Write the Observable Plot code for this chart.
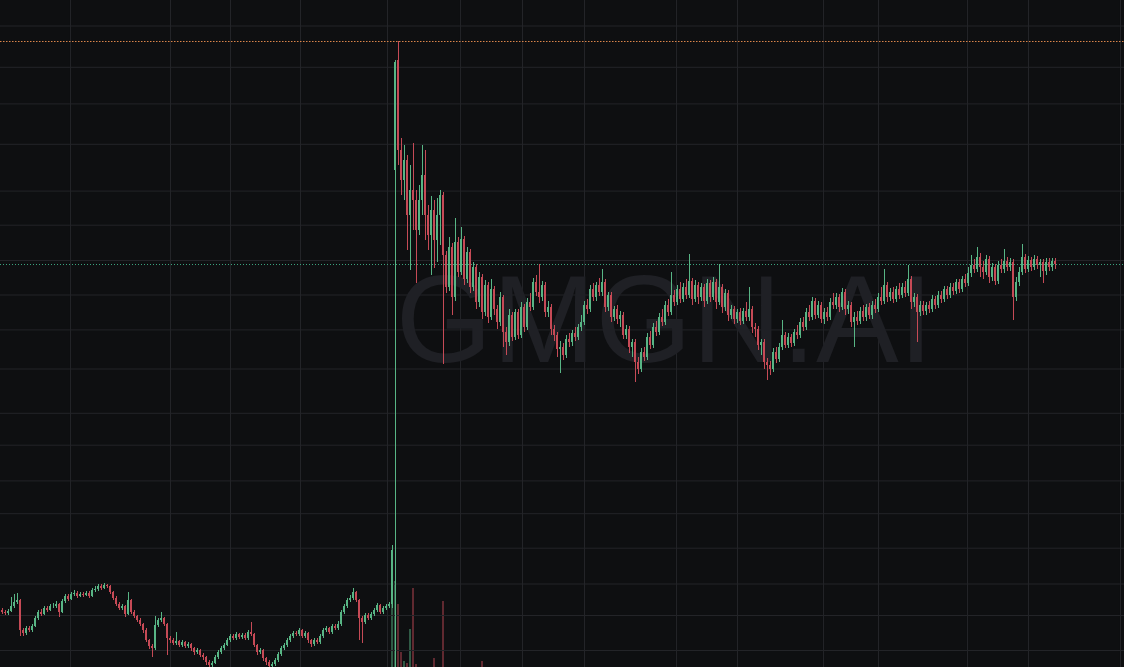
<!DOCTYPE html>
<html><head><meta charset="utf-8">
<script src="https://cdn.jsdelivr.net/npm/d3@7"></script>
<script src="https://cdn.jsdelivr.net/npm/@observablehq/plot@0.6"></script>
<style>
html,body{margin:0;padding:0;background:#0e0f11;overflow:hidden}
#chart{position:relative;width:1124px;height:667px;background:#0e0f11}
#chart svg{position:absolute;left:0;top:0}
</style></head><body><div id="chart"></div>
<script>
// Candle data (price in arbitrary units), one entry per candle, left to right
const open=[
157,155,154,156,161,165,167,137,134,139,
137,141,149,155,153,159,157,161,161,163,
155,166,171,168,173,174,171,173,172,174,
171,177,178,181,179,182,181,175,169,163,
159,161,153,167,155,151,147,143,137,127,
121,119,142,147,149,143,129,127,124,126,
122,125,121,123,119,115,117,112,110,105,
102,104,110,115,119,122,127,131,129,133,
130,132,129,135,133,122,115,117,109,105,
101,103,107,113,119,122,127,131,134,133,
137,131,134,127,123,127,125,131,137,139,
135,141,139,143,155,161,167,169,175,167,
149,145,152,149,153,157,162,155,159,161,
163,597,707,617,587,607,552,577,567,537,
567,592,552,532,557,527,552,572,512,480,
520,470,525,495,528,488,515,480,500,465,
490,455,482,450,478,458,445,470,435,425,
452,430,455,432,460,440,465,460,485,475,
470,482,455,460,438,432,418,420,412,428,
425,434,430,440,445,462,458,478,470,482,
475,485,460,472,450,458,448,452,432,438,
420,425,405,398,415,410,430,422,440,435,
450,445,462,455,472,465,478,468,480,472,
486,468,482,470,480,466,484,470,485,465,
480,460,474,452,458,448,455,446,456,450,
458,440,438,422,425,405,402,398,415,408,
420,432,422,430,424,435,432,445,440,455,
450,466,452,462,448,455,450,465,462,470,
460,475,458,462,445,450,446,456,450,460,
452,462,458,470,466,482,470,475,468,478,
472,480,474,488,465,470,455,462,456,462,
458,468,462,472,468,478,472,480,476,485,
478,488,484,494,502,498,510,500,495,508,
490,500,486,502,498,506,500,505,470,485,
495,510,498,507,500,508,502,505,496,505,
500,506];
const high=[
159,157,158,170,173,174,168,139,141,141,
143,151,157,158,161,161,163,164,166,164,
168,173,173,175,177,176,175,175,176,176,
179,181,183,183,184,183,182,176,171,165,
163,162,175,168,157,152,149,144,139,128,
123,151,149,155,150,144,131,129,135,127,
127,126,125,124,120,119,118,114,111,107,
106,112,117,121,124,129,133,133,135,134,
134,134,137,145,134,123,119,118,110,107,
105,109,115,121,124,129,133,136,136,139,
138,136,135,128,129,129,133,139,141,140,
143,143,146,157,163,169,172,179,176,168,
151,154,154,155,159,164,163,161,163,165,
222,707,726,629,622,612,602,624,577,582,
622,617,562,571,567,569,577,575,516,530,
524,549,530,540,531,520,518,505,503,495,
493,487,485,488,481,462,475,472,440,458,
455,458,458,465,463,469,474,489,492,503,
486,485,466,463,442,435,426,424,432,434,
437,440,443,452,466,468,482,484,485,489,
498,488,475,475,461,462,456,455,442,441,
428,428,410,419,420,434,436,444,446,454,
458,466,468,495,477,482,485,484,488,513,
489,487,485,484,483,488,487,490,488,503,
483,478,477,462,461,458,459,459,465,480,
461,444,441,428,428,409,406,419,420,424,
447,435,434,433,438,442,449,450,459,462,
470,469,466,465,459,460,469,474,474,473,
479,478,466,465,455,456,460,462,463,464,
466,468,474,480,498,485,479,480,481,484,
484,486,502,491,474,473,466,466,465,466,
472,471,476,476,481,481,484,484,488,488,
491,493,500,512,508,520,514,506,512,511,
504,503,506,508,518,510,509,508,490,500,
523,513,511,510,512,511,508,508,509,509,
509,509];
const low=[
153,152,152,155,159,163,131,131,132,135,
135,140,147,151,152,155,156,159,159,150,
154,164,166,167,171,169,170,170,171,169,
170,175,176,177,178,179,173,167,161,157,
157,150,152,153,149,145,141,134,125,118,
110,117,140,145,141,112,124,122,122,120,
120,119,119,116,112,113,110,107,102,98,
99,103,108,113,117,121,125,127,127,128,
128,127,127,131,120,112,113,106,102,97,
98,101,105,111,117,120,125,129,131,131,
129,129,124,120,121,123,123,129,135,133,
133,137,137,141,153,159,165,167,165,127,
124,143,147,147,151,155,153,153,157,159,
159,100,602,572,567,517,497,537,484,532,
552,527,517,492,499,505,522,403,474,476,
452,466,490,492,482,484,474,476,458,460,
448,451,444,447,452,438,441,420,412,421,
426,427,428,429,435,437,456,457,471,464,
466,450,450,432,426,410,394,407,409,420,
421,426,427,436,442,453,455,466,466,471,
471,455,456,445,446,443,440,428,428,414,
410,385,393,395,406,407,418,419,431,432,
441,442,451,452,461,462,464,465,468,469,
462,465,463,466,460,463,465,467,458,462,
454,456,446,448,443,444,442,443,446,446,
434,430,417,412,398,387,392,395,404,405,
417,419,419,420,421,428,429,436,437,446,
447,448,449,444,443,446,447,458,458,455,
457,452,453,440,420,442,443,446,446,448,
448,454,455,462,463,465,466,464,465,468,
469,470,471,458,460,425,451,452,452,454,
455,458,459,464,465,468,469,472,473,474,
475,480,481,490,494,495,490,488,492,484,
486,482,483,494,494,496,496,447,466,481,
492,494,495,496,497,498,490,484,492,496,
496,498];
const close=[
155,154,156,161,165,167,137,134,139,137,
141,149,155,153,159,157,161,161,163,155,
166,171,168,173,174,171,173,172,174,171,
177,178,181,179,182,181,175,169,163,159,
161,153,167,155,151,147,143,137,127,121,
119,142,147,149,143,129,127,124,126,122,
125,121,123,119,115,117,112,110,105,102,
104,110,115,119,122,127,131,129,133,130,
132,129,135,133,122,115,117,109,105,101,
103,107,113,119,122,127,131,134,133,137,
131,134,127,123,127,125,131,137,139,135,
141,139,143,155,161,167,169,175,167,149,
145,152,149,153,157,162,155,159,161,163,
217,705,617,587,607,552,577,567,537,567,
592,552,532,557,527,552,572,512,480,520,
470,525,495,528,488,515,480,500,465,490,
455,482,450,478,458,445,470,435,425,452,
430,455,432,460,440,465,460,485,475,470,
482,455,460,438,432,418,420,412,428,425,
434,430,440,445,462,458,478,470,482,475,
485,460,472,450,458,448,452,432,438,420,
425,405,398,415,410,430,422,440,435,450,
445,462,455,472,465,478,468,480,472,486,
468,482,470,480,466,484,470,485,465,480,
460,474,452,458,448,455,446,456,450,458,
440,438,422,425,405,402,398,415,408,420,
432,422,430,424,435,432,445,440,455,450,
466,452,462,448,455,450,465,462,470,460,
475,458,462,445,450,446,456,450,460,452,
462,458,470,466,482,470,475,468,478,472,
480,474,488,465,470,455,462,456,462,458,
468,462,472,468,478,472,480,476,485,478,
488,484,494,502,498,510,500,495,508,490,
500,486,502,498,506,500,505,470,485,495,
510,498,507,500,508,502,505,496,505,500,
506,503];
const volume=[
0,0,0,0,0,0,0,0,0,0,0,0,0,0,0,0,0,0,0,0,
0,0,0,0,0,0,0,0,0,0,0,0,0,0,0,0,0,0,0,0,
0,0,0,0,0,0,0,0,0,0,0,0,0,0,0,0,0,0,0,0,
0,0,0,0,0,0,0,0,0,0,0,0,0,0,0,0,0,0,0,0,
0,0,0,0,0,0,0,0,0,0,0,0,0,0,0,0,0,0,0,0,
0,0,0,0,0,0,0,0,0,0,0,0,0,0,0,0,0,0,0,0,
0,0,0,0,0,0,0,0,0,0,
67,86,63,15,6,4,38,79,3,0,
0,0,0,0,9,0,0,66,0,0,
0,0,0,0,0,0,0,0,0,0,
6,0,0,0,0,0,0,0,0,0,
0,0,0,0,0,0,0,0,0,0,0,0,0,0,0,0,0,0,0,0,
0,0,0,0,0,0,0,0,0,0,0,0,0,0,0,0,0,0,0,0,
0,0,0,0,0,0,0,0,0,0,0,0,0,0,0,0,0,0,0,0,
0,0,0,0,0,0,0,0,0,0,0,0,0,0,0,0,0,0,0,0,
0,0,0,0,0,0,0,0,0,0,0,0,0,0,0,0,0,0,0,0,
0,0,0,0,0,0,0,0,0,0,0,0,0,0,0,0,0,0,0,0,
0,0,0,0,0,0,0,0,0,0,0,0,0,0,0,0,0,0,0,0,
0,0,0,0,0,0,0,0,0,0,0,0,0,0,0,0,0,0,0,0,
0,0,0,0,0,0,0,0,0,0,0,0,0,0,0,0,0,0,0,0,
0,0];
// Grid tick positions (price units / candle-index units)
const gridPrices=[741.5,700.2,663.6,623.2,576.4,542.3,507,472.5,437.6,398.5,354.2,322.3,286.6,253.8,219.3,183.5,152,117];
const gridTimes=[23.33,56.67,76.67,100,129,153.33,174,194.67,225.33,245.67,274.33,292.67,322.33,342.67,373.33];
const watermark=["GMGN.AI"];

const W=1124,H=667;
const UP="#58b585", DOWN="#c64a56";
const candles=close.map((c,i)=>({t:i+0.5,o:open[i],h:high[i],l:low[i],c,v:volume[i],col:c>=open[i]?UP:DOWN}));
const xScale={domain:[0,W/3],axis:null};

const volPlot=Plot.plot({
  width:W,height:H,margin:0,
  x:xScale,
  y:{domain:[0,H],axis:null},
  color:{type:"identity"},
  style:{background:"transparent",overflow:"hidden"},
  marks:[
    Plot.ruleX(candles.filter(d=>d.v>0),{x:"t",y1:0,y2:"v",stroke:"col",strokeWidth:2,strokeOpacity:0.45,shapeRendering:"crispEdges"})
  ]
});

const pricePlot=Plot.plot({
  width:W,height:H,margin:0,
  x:xScale,
  y:{domain:[100,767],axis:null},
  color:{type:"identity"},
  style:{background:"transparent",overflow:"hidden"},
  marks:[
    Plot.gridY(gridPrices,{stroke:"#232428",strokeOpacity:1}),
    Plot.gridX(gridTimes,{stroke:"#232428",strokeOpacity:1}),
    Plot.text(watermark,{frameAnchor:"middle",dx:102,dy:-12,fontSize:124,fill:"#1f2025",fontFamily:"Liberation Sans, Arial, sans-serif"}),
    Plot.ruleY([d3.max(high)],{stroke:"#d9844a",strokeDasharray:"1.5,1.5"}),
    Plot.ruleY([close[close.length-1]],{stroke:"#3aa37d",strokeDasharray:"1,2"}),
    Plot.ruleX(candles,{x:"t",y1:"l",y2:"h",stroke:"col",strokeWidth:1,shapeRendering:"crispEdges"}),
    Plot.ruleX(candles,{x:"t",y1:"o",y2:"c",stroke:"col",strokeWidth:2,shapeRendering:"crispEdges"})
  ]
});

const root=document.getElementById("chart");
root.appendChild(volPlot);
root.appendChild(pricePlot);
</script></body></html>
